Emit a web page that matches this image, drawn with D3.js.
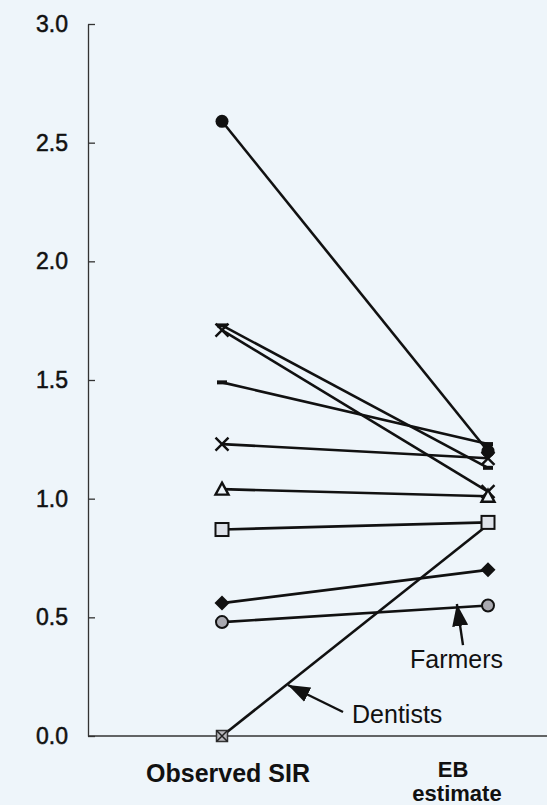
<!DOCTYPE html>
<html>
<head>
<meta charset="utf-8">
<script src="https://cdnjs.cloudflare.com/ajax/libs/d3/7.8.5/d3.min.js"></script>
<style>
  body { margin: 0; background: #eef5fa; }
  svg { display: block; font-family: "Liberation Sans", Arial, Helvetica, sans-serif; }
</style>
</head>
<body>
<svg></svg>
<script>
// observed SIR vs empirical Bayes estimate, one row per occupation
let observed = [2.59, 1.73, 1.71, 1.49, 1.23, 1.04, 0.87, 0.56, 0.48, 0.00]
let ebEstimate = [1.20, 1.13, 1.03, 1.23, 1.17, 1.01, 0.90, 0.70, 0.55, 0.89]
let markers = ["circle", "dash", "cross", "dash", "cross", "triangle", "square", "diamond", "grayCircle", "squareX"]
let yTicks = [0, 0.5, 1.0, 1.5, 2.0, 2.5, 3.0]
let columnLabels = ["Observed SIR", "EB estimate"]

let width = 547
let height = 805

let svg = d3.select("svg")
  .attr("width", width)
  .attr("height", height)

svg.append("rect")
  .attr("width", width)
  .attr("height", height)
  .attr("fill", "#eef5fa")

let xScale = d3.scaleLinear().domain([0, 1]).range([222, 488])
let yScale = d3.scaleLinear().domain([0, 3]).range([736, 24])

// y axis, ticks pointing inward
let yAxis = d3.axisLeft(yScale)
  .tickValues(yTicks)
  .tickFormat(d3.format(".1f"))
  .tickSizeInner(-7)
  .tickSizeOuter(0)
  .tickPadding(20)

let yAxisG = svg.append("g")
  .attr("transform", "translate(88, 0)")
  .call(yAxis)
yAxisG.select(".domain").attr("stroke", "#333").attr("stroke-width", 1.3)
yAxisG.selectAll(".tick line").attr("stroke", "#333").attr("stroke-width", 1.3)
yAxisG.selectAll(".tick text")
  .attr("font-size", 23)
  .attr("fill", "#111")
  .attr("stroke", "#111")
  .attr("stroke-width", 0.5)
  .attr("font-family", "'Liberation Sans', Arial, sans-serif")

// baseline
svg.append("line")
  .attr("x1", 88).attr("x2", width)
  .attr("y1", yScale(0)).attr("y2", yScale(0))
  .attr("stroke", "#333").attr("stroke-width", 1.3)

// connecting lines
svg.selectAll(".pair")
  .data(observed)
  .enter()
  .append("line")
  .attr("class", "pair")
  .attr("x1", xScale(0))
  .attr("x2", xScale(1))
  .attr("y1", d => yScale(d))
  .attr("y2", (d, i) => yScale(ebEstimate[i]))
  .attr("stroke", "#111")
  .attr("stroke-width", 2.6)

let drawMarker = (g, type) => {
  let s = 6.5
  if (type === "circle") {
    g.append("circle").attr("r", s).attr("fill", "#111")
  } else if (type === "grayCircle") {
    g.append("circle").attr("r", s - 0.5).attr("fill", "#a9a9b0").attr("stroke", "#111").attr("stroke-width", 2)
  } else if (type === "dash") {
    g.append("rect").attr("x", -5).attr("y", -2).attr("width", 10).attr("height", 4).attr("fill", "#111")
  } else if (type === "cross") {
    g.append("path").attr("d", `M${-s},${-s}L${s},${s}M${-s},${s}L${s},${-s}`)
      .attr("stroke", "#111").attr("stroke-width", 2.4)
  } else if (type === "triangle") {
    g.append("path").attr("d", `M0,${-s}L${s},${s - 1}L${-s},${s - 1}Z`)
      .attr("fill", "#eef5fa").attr("stroke", "#111").attr("stroke-width", 2.4)
  } else if (type === "square") {
    g.append("rect").attr("x", -s).attr("y", -s).attr("width", 2 * s).attr("height", 2 * s)
      .attr("fill", "#dfe3ea").attr("stroke", "#111").attr("stroke-width", 2)
  } else if (type === "diamond") {
    g.append("path").attr("d", `M0,${-s - 1}L${s + 1},0L0,${s + 1}L${-s - 1},0Z`).attr("fill", "#111")
  } else if (type === "squareX") {
    g.append("rect").attr("x", -5.5).attr("y", -5.5).attr("width", 11).attr("height", 11)
      .attr("fill", "#b8b8bc").attr("stroke", "#333").attr("stroke-width", 1.5)
    g.append("path").attr("d", "M-5.5,-5.5L5.5,5.5M-5.5,5.5L5.5,-5.5").attr("stroke", "#222").attr("stroke-width", 1.5)
  }
}

// markers on both columns (dentists' right end sits under the square)
observed.forEach((d, i) => {
  drawMarker(svg.append("g").attr("transform", `translate(${xScale(0)},${yScale(d)})`), markers[i])
})
ebEstimate.forEach((d, i) => {
  if (markers[i] === "squareX") return
  drawMarker(svg.append("g").attr("transform", `translate(${xScale(1)},${yScale(d)})`), markers[i])
})

// annotations with arrows
let annotations = [
  { label: "Farmers", tip: [0.883, 0.556], tail: [0.906, 0.383], text: [0.707, 0.287] },
  { label: "Dentists", tip: [0.248, 0.215], tail: [0.455, 0.101], text: [0.489, 0.055] }
]

svg.append("defs").append("marker")
  .attr("id", "arrow")
  .attr("viewBox", "0 0 22 16")
  .attr("refX", 22).attr("refY", 8)
  .attr("markerWidth", 22).attr("markerHeight", 16)
  .attr("markerUnits", "userSpaceOnUse")
  .attr("orient", "auto")
  .append("path")
  .attr("d", "M0,0L22,8L0,16Z")
  .attr("fill", "#111")

annotations.forEach(a => {
  svg.append("line")
    .attr("x1", xScale(a.tail[0])).attr("y1", yScale(a.tail[1]))
    .attr("x2", xScale(a.tip[0])).attr("y2", yScale(a.tip[1]))
    .attr("stroke", "#111").attr("stroke-width", 2.4)
    .attr("marker-end", "url(#arrow)")
  svg.append("text")
    .attr("x", xScale(a.text[0]))
    .attr("y", yScale(a.text[1]))
    .attr("font-size", 25)
    .attr("fill", "#111")
    .text(a.label)
})

// column labels
svg.append("text")
  .attr("x", 228).attr("y", 782)
  .attr("text-anchor", "middle")
  .attr("font-size", 25).attr("font-weight", "bold")
  .attr("fill", "#111")
  .text(columnLabels[0])

let ebWords = columnLabels[1].split(" ")
svg.append("text")
  .attr("x", 453).attr("y", 777)
  .attr("text-anchor", "middle")
  .attr("font-size", 22).attr("font-weight", "bold")
  .attr("fill", "#111")
  .text(ebWords[0])
svg.append("text")
  .attr("x", 457).attr("y", 801)
  .attr("text-anchor", "middle")
  .attr("font-size", 22).attr("font-weight", "bold")
  .attr("fill", "#111")
  .text(ebWords[1])
</script>
</body>
</html>
